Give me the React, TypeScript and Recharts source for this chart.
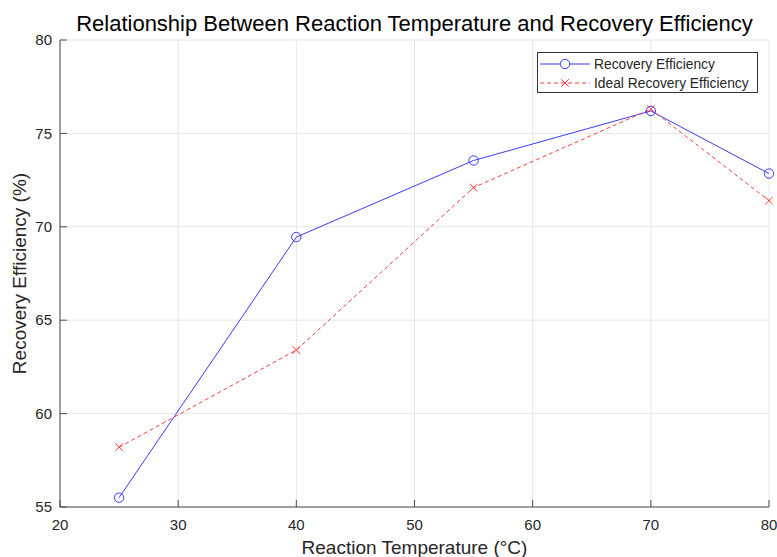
import React from 'react';
import { LineChart, Line, XAxis, YAxis, CartesianGrid, Legend } from 'recharts';

const temperatures = [25, 40, 55, 70, 80];
const recoveryEfficiency = [55.5, 69.45, 73.55, 76.2, 72.85];
const idealEfficiency = [58.2, 63.4, 72.1, 76.3, 71.4];
const xTicks = [20, 30, 40, 50, 60, 70, 80];
const yTicks = [55, 60, 65, 70, 75, 80];

const seriesNames = ['Recovery Efficiency', 'Ideal Recovery Efficiency'];

const data = temperatures.map((t, i) => ({
  temp: t,
  recovery: recoveryEfficiency[i],
  ideal: idealEfficiency[i],
}));

const FONT = '"Liberation Sans", Arial, Helvetica, sans-serif';
const TEXT = '#262626';
const AXIS = '#4a4a4a';
const BLUE = '#3a3aff';
const RED = '#ff3a3a';

const YTick = (props: any) => {
  const { x, y, payload } = props;
  return (
    <g>
      <line x1={x + 8} x2={x + 15} y1={y} y2={y} stroke={AXIS} />
      <text x={x} y={y} dy="0.35em" textAnchor="end" fontSize={15} fill={TEXT} fontFamily={FONT}>
        {payload.value}
      </text>
    </g>
  );
};

const XTick = (props: any) => {
  const { x, y, payload } = props;
  return (
    <g>
      <line x1={x} x2={x} y1={y - 12} y2={y - 19} stroke={AXIS} />
      <text x={x} y={y} dy="0.72em" textAnchor="middle" fontSize={15} fill={TEXT} fontFamily={FONT}>
        {payload.value}
      </text>
    </g>
  );
};

const CircleDot = (props: any) => {
  const { cx, cy, index } = props;
  return <circle key={`c${index}`} cx={cx} cy={cy} r={4.7} fill="none" stroke={BLUE} strokeWidth={1} />;
};

const CrossDot = (props: any) => {
  const { cx, cy, index } = props;
  const s = 3.8;
  return (
    <path
      key={`x${index}`}
      d={`M${cx - s},${cy - s}L${cx + s},${cy + s}M${cx + s},${cy - s}L${cx - s},${cy + s}`}
      stroke={RED}
      strokeWidth={1}
      fill="none"
    />
  );
};

const LegendBox = () => (
  <svg width={221} height={41} style={{ display: 'block' }}>
    <rect x={0.5} y={0.5} width={220} height={40} fill="#fff" stroke="#333" strokeWidth={1} />
    <line x1={3} x2={53} y1={12} y2={12} stroke={BLUE} />
    <circle cx={28} cy={12} r={4.7} fill="#fff" stroke={BLUE} />
    <text x={57} y={12} dy="0.35em" fontSize={13.8} fill={TEXT} fontFamily={FONT}>{seriesNames[0]}</text>
    <line x1={3} x2={53} y1={31} y2={31} stroke={RED} strokeDasharray="4 3" />
    <path d="M24.2,27.2L31.8,34.8M31.8,27.2L24.2,34.8" stroke={RED} fill="none" />
    <text x={57} y={31} dy="0.35em" fontSize={13.8} fill={TEXT} fontFamily={FONT}>{seriesNames[1]}</text>
  </svg>
);

export default function App() {
  return (
    <div style={{ position: 'absolute', left: 0, top: 0, width: 777, height: 557, background: '#fff', overflow: 'hidden' }}>
      <div
        style={{
          position: 'absolute',
          left: 60,
          top: 13,
          width: 709,
          textAlign: 'center',
          fontFamily: FONT,
          fontSize: 22,
          lineHeight: '22px',
          color: '#000',
          whiteSpace: 'nowrap',
          zIndex: 2,
        }}
      >
        Relationship Between Reaction Temperature and Recovery Efficiency
      </div>
      <LineChart width={777} height={557} data={data} margin={{ top: 40, right: 8, bottom: 0, left: 0 }}>
        <CartesianGrid stroke="#e6e6e6" strokeWidth={1} />
        <XAxis
          dataKey="temp"
          type="number"
          domain={[20, 80]}
          ticks={xTicks}
          height={50}
          tickSize={0}
          tickMargin={12}
          tickLine={false}
          axisLine={{ stroke: AXIS }}
          tick={<XTick />}
          label={{
            content: (p: any) => {
              const vb = p.viewBox;
              return (
                <text x={vb.x + vb.width / 2} y={554} textAnchor="middle" fontSize={19} fill={TEXT} fontFamily={FONT}>
                  Reaction Temperature (°C)
                </text>
              );
            },
          }}
        />
        <YAxis
          type="number"
          domain={[55, 80]}
          ticks={yTicks}
          width={60}
          tickSize={0}
          tickMargin={8}
          tickLine={false}
          axisLine={{ stroke: AXIS }}
          tick={<YTick />}
          label={{
            content: (p: any) => {
              const vb = p.viewBox;
              const cy = vb.y + vb.height / 2;
              return (
                <text x={26} y={cy} transform={`rotate(-90, 26, ${cy})`} textAnchor="middle" fontSize={19} fill={TEXT} fontFamily={FONT}>
                  Recovery Efficiency (%)
                </text>
              );
            },
          }}
        />
        <Legend
          layout="vertical"
          align="center"
          verticalAlign="middle"
          content={<LegendBox />}
          wrapperStyle={{ position: 'absolute', left: 537, top: 52, width: 221, height: 41 }}
        />
        <Line
          dataKey="recovery"
          name={seriesNames[0]}
          stroke={BLUE}
          strokeWidth={1}
          dot={<CircleDot />}
          activeDot={false}
          isAnimationActive={false}
        />
        <Line
          dataKey="ideal"
          name={seriesNames[1]}
          stroke={RED}
          strokeWidth={1}
          strokeDasharray="4 3"
          dot={<CrossDot />}
          activeDot={false}
          isAnimationActive={false}
        />
      </LineChart>
    </div>
  );
}
